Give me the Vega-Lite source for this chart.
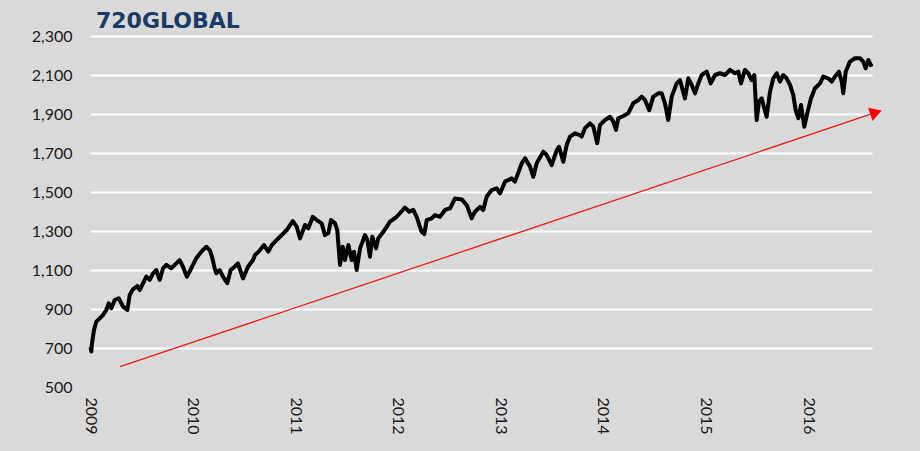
{
  "$schema": "https://vega.github.io/schema/vega-lite/v6.json",
  "autosize": "none",
  "width": 782,
  "height": 351,
  "padding": {"left": 90, "top": 36, "right": 48, "bottom": 64},
  "background": "#d9d9d9",
  "title": {
    "text": "720GLOBAL",
    "anchor": "start",
    "frame": "group",
    "dx": 6,
    "offset": -5,
    "font": "DejaVu Sans",
    "fontSize": 22,
    "fontWeight": "bold",
    "color": "#1b3a66"
  },
  "datasets": {
    "spx": [
      {"t": 2009.005, "v": 705}, {"t": 2009.013, "v": 682}, {"t": 2009.019, "v": 724}, {"t": 2009.039, "v": 792},
      {"t": 2009.061, "v": 835}, {"t": 2009.095, "v": 852}, {"t": 2009.127, "v": 869}, {"t": 2009.159, "v": 895},
      {"t": 2009.182, "v": 929}, {"t": 2009.208, "v": 904}, {"t": 2009.241, "v": 946}, {"t": 2009.280, "v": 955},
      {"t": 2009.322, "v": 912}, {"t": 2009.364, "v": 895}, {"t": 2009.387, "v": 972}, {"t": 2009.419, "v": 1001},
      {"t": 2009.461, "v": 1018}, {"t": 2009.484, "v": 997}, {"t": 2009.517, "v": 1032}, {"t": 2009.549, "v": 1066},
      {"t": 2009.582, "v": 1049}, {"t": 2009.614, "v": 1083}, {"t": 2009.646, "v": 1100}, {"t": 2009.679, "v": 1049},
      {"t": 2009.712, "v": 1109}, {"t": 2009.744, "v": 1126}, {"t": 2009.792, "v": 1109}, {"t": 2009.841, "v": 1134},
      {"t": 2009.874, "v": 1151}, {"t": 2009.906, "v": 1117}, {"t": 2009.945, "v": 1066}, {"t": 2009.987, "v": 1109},
      {"t": 2010.036, "v": 1160}, {"t": 2010.085, "v": 1194}, {"t": 2010.134, "v": 1219}, {"t": 2010.167, "v": 1202},
      {"t": 2010.189, "v": 1168}, {"t": 2010.215, "v": 1109}, {"t": 2010.231, "v": 1083}, {"t": 2010.264, "v": 1100},
      {"t": 2010.296, "v": 1066}, {"t": 2010.338, "v": 1032}, {"t": 2010.371, "v": 1100}, {"t": 2010.410, "v": 1117},
      {"t": 2010.442, "v": 1134}, {"t": 2010.491, "v": 1057}, {"t": 2010.540, "v": 1117}, {"t": 2010.589, "v": 1151},
      {"t": 2010.608, "v": 1177}, {"t": 2010.657, "v": 1202}, {"t": 2010.696, "v": 1228}, {"t": 2010.738, "v": 1194},
      {"t": 2010.771, "v": 1228}, {"t": 2010.820, "v": 1254}, {"t": 2010.868, "v": 1279}, {"t": 2010.917, "v": 1305},
      {"t": 2010.976, "v": 1351}, {"t": 2011.015, "v": 1322}, {"t": 2011.047, "v": 1262}, {"t": 2011.096, "v": 1331},
      {"t": 2011.128, "v": 1314}, {"t": 2011.171, "v": 1373}, {"t": 2011.210, "v": 1356}, {"t": 2011.258, "v": 1339},
      {"t": 2011.290, "v": 1279}, {"t": 2011.323, "v": 1288}, {"t": 2011.349, "v": 1356}, {"t": 2011.388, "v": 1339},
      {"t": 2011.410, "v": 1305}, {"t": 2011.437, "v": 1126}, {"t": 2011.463, "v": 1219}, {"t": 2011.485, "v": 1151},
      {"t": 2011.518, "v": 1228}, {"t": 2011.551, "v": 1151}, {"t": 2011.573, "v": 1194}, {"t": 2011.599, "v": 1100},
      {"t": 2011.632, "v": 1211}, {"t": 2011.680, "v": 1279}, {"t": 2011.703, "v": 1254}, {"t": 2011.729, "v": 1168},
      {"t": 2011.751, "v": 1271}, {"t": 2011.788, "v": 1211}, {"t": 2011.810, "v": 1262}, {"t": 2011.859, "v": 1296},
      {"t": 2011.924, "v": 1348}, {"t": 2011.989, "v": 1373}, {"t": 2012.070, "v": 1420}, {"t": 2012.112, "v": 1399},
      {"t": 2012.151, "v": 1408}, {"t": 2012.184, "v": 1373}, {"t": 2012.210, "v": 1330}, {"t": 2012.233, "v": 1296},
      {"t": 2012.258, "v": 1284}, {"t": 2012.282, "v": 1356}, {"t": 2012.330, "v": 1365}, {"t": 2012.363, "v": 1382},
      {"t": 2012.411, "v": 1373}, {"t": 2012.460, "v": 1408}, {"t": 2012.509, "v": 1416}, {"t": 2012.558, "v": 1467},
      {"t": 2012.623, "v": 1462}, {"t": 2012.672, "v": 1433}, {"t": 2012.720, "v": 1365}, {"t": 2012.752, "v": 1399},
      {"t": 2012.801, "v": 1424}, {"t": 2012.833, "v": 1408}, {"t": 2012.866, "v": 1476}, {"t": 2012.915, "v": 1510},
      {"t": 2012.964, "v": 1519}, {"t": 2012.996, "v": 1493}, {"t": 2013.045, "v": 1553}, {"t": 2013.110, "v": 1570},
      {"t": 2013.142, "v": 1553}, {"t": 2013.208, "v": 1647}, {"t": 2013.240, "v": 1673}, {"t": 2013.289, "v": 1630},
      {"t": 2013.321, "v": 1578}, {"t": 2013.354, "v": 1647}, {"t": 2013.418, "v": 1707}, {"t": 2013.451, "v": 1690},
      {"t": 2013.500, "v": 1638}, {"t": 2013.549, "v": 1715}, {"t": 2013.571, "v": 1732}, {"t": 2013.613, "v": 1655},
      {"t": 2013.646, "v": 1741}, {"t": 2013.678, "v": 1784}, {"t": 2013.727, "v": 1801}, {"t": 2013.776, "v": 1792},
      {"t": 2013.792, "v": 1784}, {"t": 2013.825, "v": 1827}, {"t": 2013.873, "v": 1852}, {"t": 2013.906, "v": 1835},
      {"t": 2013.944, "v": 1750}, {"t": 2013.971, "v": 1844}, {"t": 2014.019, "v": 1869}, {"t": 2014.068, "v": 1886},
      {"t": 2014.100, "v": 1861}, {"t": 2014.127, "v": 1818}, {"t": 2014.149, "v": 1878}, {"t": 2014.198, "v": 1890},
      {"t": 2014.247, "v": 1904}, {"t": 2014.295, "v": 1955}, {"t": 2014.344, "v": 1972}, {"t": 2014.377, "v": 1989},
      {"t": 2014.409, "v": 1972}, {"t": 2014.451, "v": 1920}, {"t": 2014.490, "v": 1989}, {"t": 2014.539, "v": 2006},
      {"t": 2014.572, "v": 2006}, {"t": 2014.604, "v": 1955}, {"t": 2014.636, "v": 1869}, {"t": 2014.670, "v": 1989},
      {"t": 2014.718, "v": 2057}, {"t": 2014.750, "v": 2074}, {"t": 2014.799, "v": 1980}, {"t": 2014.831, "v": 2083},
      {"t": 2014.865, "v": 2049}, {"t": 2014.897, "v": 2006}, {"t": 2014.929, "v": 2057}, {"t": 2014.962, "v": 2100},
      {"t": 2015.011, "v": 2117}, {"t": 2015.050, "v": 2057}, {"t": 2015.092, "v": 2100}, {"t": 2015.140, "v": 2109},
      {"t": 2015.189, "v": 2100}, {"t": 2015.238, "v": 2126}, {"t": 2015.287, "v": 2109}, {"t": 2015.319, "v": 2117},
      {"t": 2015.345, "v": 2057}, {"t": 2015.384, "v": 2126}, {"t": 2015.416, "v": 2109}, {"t": 2015.449, "v": 2074},
      {"t": 2015.475, "v": 2100}, {"t": 2015.498, "v": 1869}, {"t": 2015.520, "v": 1963}, {"t": 2015.547, "v": 1980},
      {"t": 2015.572, "v": 1929}, {"t": 2015.595, "v": 1886}, {"t": 2015.628, "v": 2014}, {"t": 2015.660, "v": 2083},
      {"t": 2015.693, "v": 2109}, {"t": 2015.725, "v": 2066}, {"t": 2015.757, "v": 2100}, {"t": 2015.790, "v": 2083},
      {"t": 2015.823, "v": 2049}, {"t": 2015.855, "v": 1997}, {"t": 2015.878, "v": 1920}, {"t": 2015.904, "v": 1878},
      {"t": 2015.930, "v": 1946}, {"t": 2015.962, "v": 1835}, {"t": 2015.995, "v": 1912}, {"t": 2016.027, "v": 1980},
      {"t": 2016.066, "v": 2032}, {"t": 2016.115, "v": 2057}, {"t": 2016.147, "v": 2092}, {"t": 2016.196, "v": 2083},
      {"t": 2016.229, "v": 2066}, {"t": 2016.261, "v": 2092}, {"t": 2016.300, "v": 2117}, {"t": 2016.327, "v": 2066},
      {"t": 2016.342, "v": 2006}, {"t": 2016.366, "v": 2117}, {"t": 2016.407, "v": 2169}, {"t": 2016.456, "v": 2186},
      {"t": 2016.505, "v": 2186}, {"t": 2016.537, "v": 2169}, {"t": 2016.560, "v": 2134}, {"t": 2016.586, "v": 2177},
      {"t": 2016.619, "v": 2143}
    ],
    "trend": [
      {"t": 2009.292, "v": 604},
      {"t": 2016.661, "v": 1908}
    ],
    "arrowhead": [
      {"t": 2016.661, "v": 1908}
    ]
  },
  "config": {
    "view": {"fill": "#d9d9d9", "stroke": null},
    "axis": {
      "labelFont": "Lato",
      "labelFontSize": 16,
      "labelColor": "#1a1a1a",
      "labelOverlap": false,
      "domain": false,
      "ticks": false,
      "title": null
    }
  },
  "encoding": {
    "x": {
      "field": "t",
      "type": "quantitative",
      "scale": {"domain": [2009, 2016.622], "nice": false, "zero": false},
      "axis": {
        "values": [2009, 2010, 2011, 2012, 2013, 2014, 2015, 2016],
        "format": "d",
        "labelAngle": 90,
        "labelAlign": "left",
        "labelBaseline": "middle",
        "labelPadding": 10,
        "grid": false
      }
    },
    "y": {
      "field": "v",
      "type": "quantitative",
      "scale": {"domain": [500, 2300], "nice": false, "zero": false},
      "axis": {
        "values": [500, 700, 900, 1100, 1300, 1500, 1700, 1900, 2100, 2300],
        "format": ",d",
        "labelPadding": 18,
        "grid": true,
        "gridColor": "#ffffff",
        "gridWidth": 2,
        "gridOpacity": {"condition": {"test": "datum.value == 500", "value": 0}, "value": 1}
      }
    }
  },
  "layer": [
    {
      "data": {"name": "spx"},
      "mark": {"type": "line", "color": "#000000", "strokeWidth": 4, "strokeJoin": "round"}
    },
    {
      "data": {"name": "trend"},
      "mark": {"type": "line", "color": "#ee1c1c", "strokeWidth": 1.3}
    },
    {
      "data": {"name": "arrowhead"},
      "mark": {"type": "point", "shape": "triangle-right", "filled": true, "color": "#ff0000", "opacity": 1, "size": 190, "angle": -18.6}
    }
  ]
}
